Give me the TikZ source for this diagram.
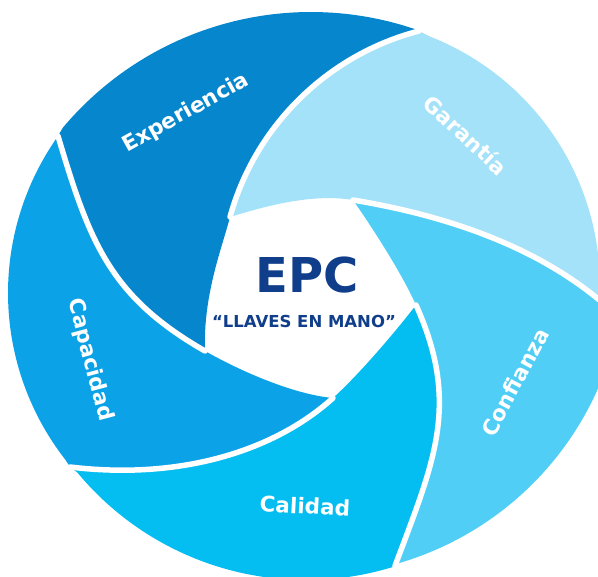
\documentclass[tikz,border=0pt]{standalone}
\usepackage{fontspec}
\setmainfont{DejaVu Sans}
\definecolor{cExp}{RGB}{6,134,205}
\definecolor{cCap}{RGB}{12,162,231}
\definecolor{cCal}{RGB}{4,190,242}
\definecolor{cCon}{RGB}{80,206,246}
\definecolor{cGar}{RGB}{164,226,249}
\definecolor{cEPC}{RGB}{16,62,138}
\tikzset{
  lbl/.style={text=white, font=\fontsize{21.5}{22}\selectfont\bfseries, inner sep=0pt},
  gap/.style={draw=white, line width=5.5pt, line cap=round},
}
\begin{document}
\begin{tikzpicture}[x=1pt,y=-1pt]
\useasboundingbox (0,0) rectangle (598,577);
\clip (0,0) rectangle (598,577);
% tips and outer points
\coordinate (O1) at (419,31);
\coordinate (O2) at (58,136);
\coordinate (O3) at (70,467);
\coordinate (O4) at (395,566);
\coordinate (O5) at (612,311);
\coordinate (T1) at (230,217);
\coordinate (T2) at (205,351);
\coordinate (T3) at (333,398);
\coordinate (T4) at (416,305);
\coordinate (T5) at (353,200);
% Experiencia
\fill[cExp] plot[domain=-140:-71.1, samples=60, variable=\t] ({311+324*cos(\t)},{336+324*sin(\t)})
  -- (O1) .. controls (327.7,54.6) and (255,126.1) .. (T1)
  .. controls (222,248) and (203,295) .. (T2)
  .. controls (109.5,296.4) and (89.4,241.5) .. (O2) -- cycle;
% Garantia
\fill[cGar] plot[domain=-68.6:3, samples=60, variable=\t] ({332+268*cos(\t)},{286+268*sin(\t)})
  -- (O5) .. controls (540,245) and (441.7,214.8) .. (T5)
  .. controls (313.6,193.4) and (268.2,205.2) .. (T1)
  .. controls (255,126.1) and (327.7,54.6) .. (O1) -- cycle;
% Confianza
\fill[cCon] plot[domain=10:73.75, samples=60, variable=\t] ({310+315*cos(\t)},{261+315*sin(\t)})
  -- (O4) .. controls (433.5,462.6) and (461.1,405.1) .. (T4)
  .. controls (401.7,273.2) and (373,228.7) .. (T5)
  .. controls (441.7,214.8) and (540,245) .. (O5) -- cycle;
% Calidad
\fill[cCal] plot[domain=73.4:140.3, samples=60, variable=\t] ({306+297*cos(\t)},{283+297*sin(\t)})
  -- (O3) .. controls (179.2,480.2) and (273.8,451.6) .. (T3)
  .. controls (358.9,374.6) and (394.7,332.7) .. (T4)
  .. controls (461.1,405.1) and (433.5,462.6) .. (O4) -- cycle;
% Capacidad
\fill[cCap] plot[domain=142:213.6, samples=60, variable=\t] ({279+271*cos(\t)},{293+271*sin(\t)})
  -- (O2) .. controls (89.4,241.5) and (109.5,296.4) .. (T2)
  .. controls (239.7,370.8) and (293.2,394.4) .. (T3)
  .. controls (273.8,451.6) and (179.2,480.2) .. (O3) -- cycle;
% white gaps between the blades
\draw[gap] (O1) .. controls (327.7,54.6) and (255,126.1) .. (T1);
\draw[gap] (O2) .. controls (89.4,241.5) and (109.5,296.4) .. (T2);
\draw[gap] (O3) .. controls (179.2,480.2) and (273.8,451.6) .. (T3);
\draw[gap] (O4) .. controls (433.5,462.6) and (461.1,405.1) .. (T4);
\draw[gap] (O5) .. controls (540,245) and (441.7,214.8) .. (T5);
% texts
\node[text=cEPC, font=\fontsize{48}{48}\selectfont\bfseries, inner sep=0pt] (epc) at (307,275) {EPC};
\node[text=cEPC, font=\fontsize{16.5}{17}\selectfont\bfseries, inner sep=0pt] (llaves) at (304,321) {“LLAVES EN MANO”};
\node[lbl, rotate=29] (exp) at (186,113) {Experiencia};
\node[lbl, rotate=-43] (gar) at (466,135) {Garantía};
\node[lbl, rotate=62] (con) at (515,382) {Confianza};
\node[lbl, rotate=-3] (cal) at (305,506) {Calidad};
\node[lbl, rotate=-75] (cap) at (90,360) {Capacidad};
\end{tikzpicture}
\end{document}
